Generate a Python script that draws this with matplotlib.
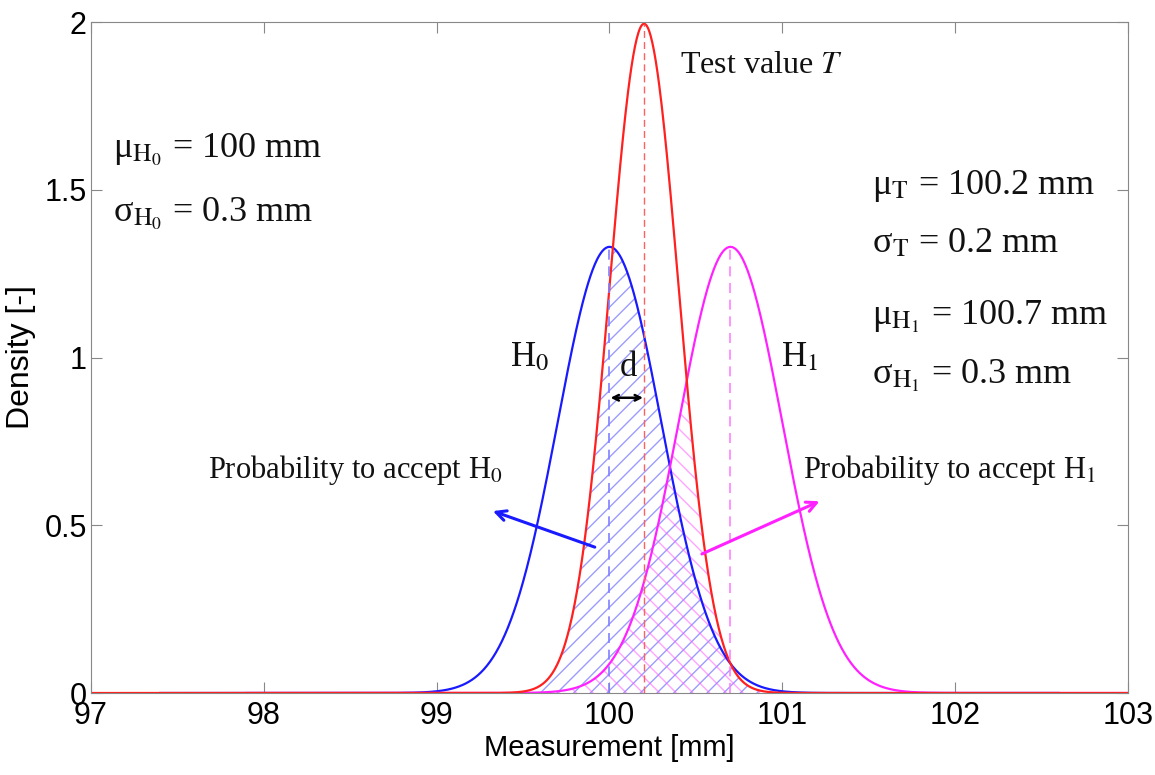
import numpy as np
import matplotlib
matplotlib.use("Agg")
import matplotlib.pyplot as plt

# ── Distribution parameters (read from the annotations) ─────────────────────
MU_H0, SIGMA_H0 = 100.0, 0.3
MU_T, SIGMA_T = 100.2, 0.2
MU_H1, SIGMA_H1 = 100.7, 0.3

# plotted x ranges of each curve
X_H0 = (97.4, 102.6)
X_T = (97.0, 103.0)
X_H1 = (97.9, 103.0)

X_TICKS = [97, 98, 99, 100, 101, 102, 103]
Y_TICKS = [0, 0.5, 1, 1.5, 2]
Y_TICKLABELS = ["0", "0.5", "1", "1.5", "2"]
# ─────────────────────────────────────────────────────────────────────────────


def pdf(x, mu, sigma):
    return np.exp(-0.5 * ((x - mu) / sigma) ** 2) / (sigma * np.sqrt(2 * np.pi))


plt.rcParams["mathtext.fontset"] = "stix"
plt.rcParams["hatch.linewidth"] = 1.0

fig = plt.figure(figsize=(11.55, 7.75), dpi=100)
ax = fig.add_axes([0.0788, 0.1058, 0.8978, 0.8658])

x_h0 = np.linspace(*X_H0, 1200)
x_t = np.linspace(*X_T, 1200)
x_h1 = np.linspace(*X_H1, 1200)
xs = np.linspace(97, 103, 3000)

h0 = pdf(xs, MU_H0, SIGMA_H0)
t = pdf(xs, MU_T, SIGMA_T)
h1 = pdf(xs, MU_H1, SIGMA_H1)

# overlap areas (hatched)
ax.fill_between(xs, 0, np.minimum(h0, t), where=np.minimum(h0, t) > 0.005,
                facecolor="none", edgecolor=(0.4, 0.4, 1.0, 0.65),
                hatch="//", linewidth=0)
ax.fill_between(xs, 0, np.minimum(h1, t), where=np.minimum(h1, t) > 0.005,
                facecolor="none", edgecolor=(1.0, 0.35, 1.0, 0.55),
                hatch="\\\\", linewidth=0)

ax.plot(x_h0, pdf(x_h0, MU_H0, SIGMA_H0), color="#1a1aff", lw=1.6)
ax.plot(x_h1, pdf(x_h1, MU_H1, SIGMA_H1), color="#ff22ff", lw=1.6)
ax.plot(x_t, pdf(x_t, MU_T, SIGMA_T), color="#ff2020", lw=1.6)

# mean markers
ax.plot([MU_H0, MU_H0], [0, pdf(MU_H0, MU_H0, SIGMA_H0)], color="#8080ff",
        ls=(0, (6, 4)), lw=1.2)
ax.plot([MU_T, MU_T], [0, pdf(MU_T, MU_T, SIGMA_T)], color="#ff6060",
        ls=(0, (5, 3)), lw=1.0)
ax.plot([MU_H1, MU_H1], [0, pdf(MU_H1, MU_H1, SIGMA_H1)], color="#ff80ff",
        ls=(0, (6, 4)), lw=1.2)

serif = "Liberation Serif"
kw = dict(family=serif, va="center", color="#111111")
ax.text(100.88, 1.87, r"Test value $\mathit{T}$", fontsize=23, ha="center", **kw)
ax.text(97.13, 1.62, r"μ$_{\mathrm{H}_0}$ = 100 mm", fontsize=26, **kw)
ax.text(97.13, 1.43, r"σ$_{\mathrm{H}_0}$ = 0.3 mm", fontsize=26, **kw)
ax.text(101.52, 1.51, r"μ$_{\mathrm{T}}$ = 100.2 mm", fontsize=26, **kw)
ax.text(101.52, 1.34, r"σ$_{\mathrm{T}}$ = 0.2 mm", fontsize=26, **kw)
ax.text(101.52, 1.12, r"μ$_{\mathrm{H}_1}$ = 100.7 mm", fontsize=26, **kw)
ax.text(101.52, 0.945, r"σ$_{\mathrm{H}_1}$ = 0.3 mm", fontsize=26, **kw)
ax.text(99.54, 1.0, r"H$_0$", fontsize=25, ha="center", **kw)
ax.text(101.10, 1.0, r"H$_1$", fontsize=25, ha="center", **kw)
ax.text(100.11, 0.97, "d", fontsize=25, ha="center", **kw)
ax.text(98.53, 0.665, r"Probability to accept H$_0$", fontsize=22, ha="center", **kw)
ax.text(101.97, 0.665, r"Probability to accept H$_1$", fontsize=22, ha="center", **kw)

ax.annotate("", xy=(100.21, 0.88), xytext=(99.99, 0.88),
            arrowprops=dict(arrowstyle="<->", color="black", lw=1.8))
ax.annotate("", xy=(99.31, 0.545), xytext=(99.93, 0.432),
            arrowprops=dict(arrowstyle="->", color="#1a1aff", lw=2.2,
                            mutation_scale=18))
ax.annotate("", xy=(101.23, 0.575), xytext=(100.52, 0.411),
            arrowprops=dict(arrowstyle="->", color="#ff22ff", lw=2.2,
                            mutation_scale=18))

ax.set_xlim(97, 103)
ax.set_ylim(0, 2)
ax.set_xticks(X_TICKS)
ax.set_yticks(Y_TICKS)
ax.set_yticklabels(Y_TICKLABELS)
ax.tick_params(direction="in", top=True, right=True, length=8, color="#888888",
               labelsize=22)
ax.tick_params(axis="x", pad=6)
ax.tick_params(axis="y", pad=3)
for lab in ax.get_xticklabels() + ax.get_yticklabels():
    lab.set_family("Liberation Sans")
for sp in ax.spines.values():
    sp.set_color("#888888")
ax.set_xlabel("Measurement [mm]", fontsize=21, family="Liberation Sans",
              labelpad=2)
ax.set_ylabel("Density [-]", fontsize=23, family="Liberation Sans",
              labelpad=6)

fig.savefig("out.png", dpi=100)
